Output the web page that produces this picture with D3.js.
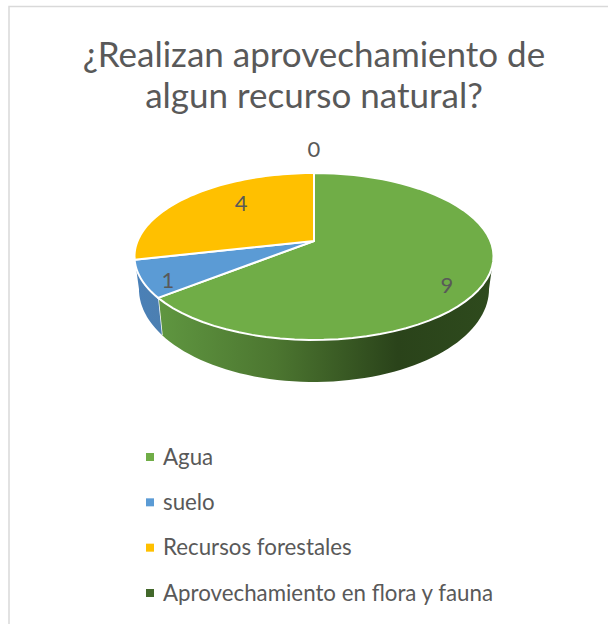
<!DOCTYPE html>
<html><head><meta charset="utf-8">
<script src="https://cdn.jsdelivr.net/npm/d3@7"></script>
<style>html,body{margin:0;padding:0;background:#fff}svg{display:block}text{font-family:Lato,sans-serif;fill:#595959}</style>
</head><body><svg id="c" width="608" height="624"></svg>
<script>
const titleLines = ["¿Realizan aprovechamiento de", "algun recurso natural?"];
const categories = ["Agua", "suelo", "Recursos forestales", "Aprovechamiento en flora y fauna"];
const values = [9, 1, 4, 0];
const colors = ["#70AD47", "#5B9BD5", "#FFC000", "#43682B"];
const labelAngles = [125.9, 239.7, 318.7, 360];
const labelRadii = [0.845, 0.88, 0.687, 1.448];

const W = 608, H = 624;
const svg = d3.select("#c");
const TAU = Math.PI * 2;

// Chart frame
svg.append("path").attr("d", `M${W + 2},6.5H9V${H + 2}`).attr("fill", "none").attr("stroke", "#D9D9D9").attr("stroke-width", 1.5);

// Perspective projection of the unit disc
const cx = 314, cy = 241, persp = -0.1856, A = 80.6, B = 176.4;
const project = (ang, r) => {
  const u = r * Math.sin(ang), v = -r * Math.cos(ang), d = 1 + persp * v;
  return [B * u / d, A * v / d];
};
const topPt = (ang, r = 1) => { const p = project(ang, r); return [cx + p[0], cy + p[1]]; };
const botPt = ang => { const p = project(ang, 1); return [cx + 0.975 * p[0], 271.7 + 1.114 * p[1]]; };
const steps = (a0, a1) => d3.range(0, 61).map(i => a0 + (a1 - a0) * i / 60);
const line = d3.line();

const arcs = d3.pie().sort(null).value(d => d).startAngle(0).endAngle(TAU)(values);

// Angle at which the rim meets the silhouette (right and left extremes)
const rightAng = Math.PI - Math.acos(-persp);
const leftAng = TAU - rightAng;

const defs = svg.append("defs");
const grad = (id, stops, x1, x2) => {
  const g = defs.append("linearGradient").attr("id", id).attr("gradientUnits", "userSpaceOnUse")
    .attr("x1", x1).attr("x2", x2).attr("y1", 0).attr("y2", 0);
  stops.forEach(s => g.append("stop").attr("offset", s[0]).attr("stop-color", s[1]));
};
grad("sideGreen", [[0, "#5F9640"], [0.35, "#4C7630"], [0.72, "#2A431A"], [1, "#2E4A1D"]], 160, 490);
grad("sideBlue", [[0, "#4A80B8"], [1, "#4C7FB0"]], 135, 162);
const sideFill = ["url(#sideGreen)", "url(#sideBlue)"];

// Rim: the green and blue wedges own the whole face toward the viewer
sideFill.forEach((fill, i) => {
  const a = arcs[i];
  const a0 = Math.max(a.startAngle, rightAng), a1 = i === sideFill.length - 1 ? leftAng : a.endAngle;
  const s = steps(a0, a1);
  const pts = s.map(t => topPt(t)).concat(s.slice().reverse().map(botPt));
  svg.append("path").attr("d", line(pts) + "Z").attr("fill", fill);
  if (a1 < leftAng) {
    svg.append("path").attr("d", line([topPt(a1), botPt(a1)])).attr("stroke", "#fff").attr("stroke-width", 1.5).attr("fill", "none");
  }
});

// Top face
arcs.filter(a => a.endAngle > a.startAngle).forEach((a, i) => {
  const pts = [[cx, cy]].concat(steps(a.startAngle, a.endAngle).map(t => topPt(t)));
  svg.append("path").attr("d", line(pts) + "Z").attr("fill", colors[i])
    .attr("stroke", "#fff").attr("stroke-width", 2).attr("stroke-linejoin", "round");
});

// Data labels
values.forEach((v, i) => {
  const p = topPt(labelAngles[i] * Math.PI / 180, labelRadii[i]);
  svg.append("text").attr("x", p[0]).attr("y", p[1]).attr("dy", "0.35em")
    .attr("text-anchor", "middle").attr("font-size", 22).text(v);
});

// Title
const titleY = d3.scaleOrdinal().domain(titleLines).range([67, 108]);
titleLines.forEach(t => {
  svg.append("text").attr("x", 314).attr("y", titleY(t)).attr("text-anchor", "middle")
    .attr("font-size", 35).text(t);
});

// Legend
const legendY = d3.scalePoint().domain(categories).range([457, 593]);
categories.forEach((c, i) => {
  svg.append("rect").attr("x", 146).attr("y", legendY(c) - 4).attr("width", 8).attr("height", 8).attr("fill", colors[i]);
  svg.append("text").attr("x", 163).attr("y", legendY(c)).attr("dy", "0.35em").attr("font-size", 22.3).text(c);
});
</script></body></html>
